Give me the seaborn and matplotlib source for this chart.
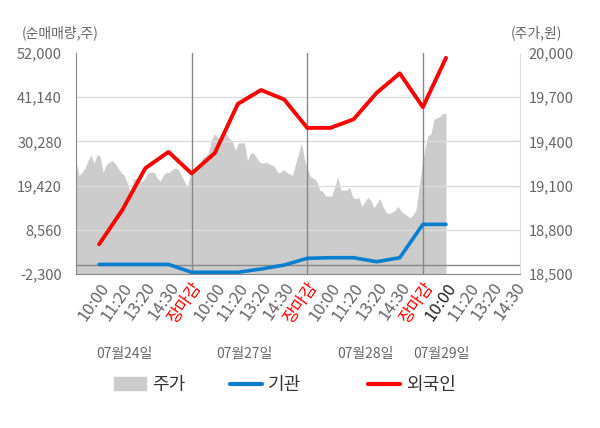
import numpy as np
import pandas as pd
import matplotlib
matplotlib.use('Agg')
import matplotlib.pyplot as plt
import seaborn as sns
from matplotlib.patches import Patch
from matplotlib.lines import Line2D

# time slots per day
slot_labels = ['10:00', '11:20', '13:20', '14:30', '장마감'] * 3 + ['10:00', '11:20', '13:20', '14:30']
day_labels = ['07월24일', '07월27일', '07월28일', '07월29일']

# net buying (shares), one value per slot 1..16
foreign = [5000, 13400, 23700, 27700, 22400, 27400, 39500, 42900,
           40600, 33600, 33600, 35700, 42200, 47000, 38700, 50800]
institution = [50, 50, 50, 50, -1880, -1880, -1880, -1070,
               -100, 1560, 1700, 1700, 720, 1700, 9900, 9900]

# intraday stock price (won)
price = [19260, 19170, 19190, 19220, 19270, 19310, 19250, 19310, 19300, 19190,
         19240, 19260, 19270, 19250, 19220, 19190, 19170, 19120, 19060, 19140,
         19150, 19130, 19130, 19150, 19190, 19190, 19190, 19150, 19130, 19170,
         19190, 19190, 19210, 19220, 19210, 19170, 19130, 19090, 19170, 19190,
         19210, 19230,
         19290, 19300, 19320, 19410, 19450, 19430, 19420, 19470, 19450, 19420,
         19400, 19340, 19390, 19390, 19390, 19270, 19320, 19320, 19290, 19260,
         19250, 19260, 19250, 19240, 19230, 19190, 19190, 19210, 19190, 19180,
         19170, 19250, 19320, 19390, 19270, 19210, 19160, 19150, 19130,
         19070, 19060, 19030, 19030, 19030, 19090, 19160, 19070, 19070, 19070,
         19090, 19020, 19010, 19020, 18960, 18990, 19020, 19000, 18950, 18980,
         19010, 18960, 18920, 18910, 18920, 18930, 18960, 18930, 18910, 18900,
         18880, 18900, 18930, 19080, 19230, 19350, 19440, 19450, 19550, 19560,
         19570, 19590, 19590]

left_ticks = [-2300, 8560, 19420, 30280, 41140, 52000]
right_ticks = [18500, 18800, 19100, 19400, 19700, 20000]

sns.set_style('white')
plt.rcParams['font.family'] = ['Noto Sans CJK KR', 'DejaVu Sans']

fig = plt.figure(figsize=(6, 4.28), dpi=100)
ax = fig.add_axes([76 / 600, 1 - 274 / 428, 444 / 600, 221 / 428])
ax2 = ax.twinx()

# price area on the right axis
price_df = pd.DataFrame({'x': np.linspace(0, 16, len(price)), 'price': price})
ax2.set_facecolor('#f5f5f5')
ax2.fill_between(price_df['x'], price_df['price'], 18500, color='#cccccc', lw=0, zorder=1)
for v in right_ticks[1:-1]:
    ax2.axhline(v, color='#dcdcdc', lw=1, zorder=2)
ax2.set_ylim(18500, 20000)
ax2.set_yticks(right_ticks)
ax2.set_yticklabels([f'{v:,}' for v in right_ticks])

# lines on top
ax.set_zorder(ax2.get_zorder() + 1)
ax.patch.set_visible(False)

flow = pd.DataFrame({'slot': np.arange(1, len(foreign) + 1), '외국인': foreign, '기관': institution})
sns.lineplot(data=flow, x='slot', y='기관', ax=ax, color='#0a7fcf', lw=2.6, zorder=4)
sns.lineplot(data=flow, x='slot', y='외국인', ax=ax, color='#ff0000', lw=2.8, zorder=5)

ax.set_ylim(-2300, 52000)
ax.set_yticks(left_ticks)
ax.set_yticklabels([f'{v:,}' for v in left_ticks])
ax.set_xlim(0, 19.2)
ax.set_xlabel('')
ax.set_ylabel('')

ax.axhline(0, color='#888888', lw=1, zorder=2)
for d in [5, 10, 15]:
    ax.axvline(d, color='#888888', lw=1, zorder=2)

ax.set_xticks(range(1, len(slot_labels) + 1))
ax.set_xticklabels(slot_labels, rotation=55, ha='right', va='top', rotation_mode='anchor')
for i, t in enumerate(ax.get_xticklabels()):
    if slot_labels[i] == '장마감':
        t.set_color('#ff0000')
    elif i == 15:
        t.set_color('#222222')
    else:
        t.set_color('#666666')
    t.set_fontsize(12)
ax.tick_params(axis='x', length=0, pad=4)
ax.set_xticks([0, 5, 10, 15], minor=True)
ax.tick_params(axis='x', which='minor', length=5, color='#888888')
ax.tick_params(axis='y', length=0, labelsize=10.5, labelcolor='#666666', pad=10)
ax2.tick_params(axis='y', length=0, labelsize=10.5, labelcolor='#666666', pad=6)

ax.spines['top'].set_visible(False)
ax2.spines['top'].set_visible(False)
ax.spines['left'].set_color('#888888')
ax.spines['bottom'].set_color('#888888')
ax2.spines['right'].set_color('#dddddd')
ax2.spines['left'].set_visible(False)
ax2.spines['bottom'].set_visible(False)
ax.spines['right'].set_visible(False)

day_pos = [2.1, 7.3, 12.5, 15.8]
for p, lab in zip(day_pos, day_labels):
    ax.text(p, -0.36, lab, transform=ax.get_xaxis_transform(), ha='center', va='center',
            fontsize=10, color='#666666')

fig.text(22 / 600, 1 - 33 / 428, '(순매매량,주)', ha='left', va='center', fontsize=10, color='#666666')
fig.text(562 / 600, 1 - 33 / 428, '(주가,원)', ha='right', va='center', fontsize=10, color='#666666')

# legend, one entry at a time to match the uneven spacing
handles = [Patch(color='#cccccc'), Line2D([], [], color='#0a7fcf', lw=3), Line2D([], [], color='#ff0000', lw=3)]
names = ['주가', '기관', '외국인']
legend_x = [114, 230, 368]
for h, n, lx in zip(handles, names, legend_x):
    leg = fig.legend([h], [n], loc='center left', bbox_to_anchor=(lx / 600, 1 - 385 / 428),
                     frameon=False, fontsize=13, handlelength=1.77, handletextpad=0.35,
                     borderpad=0, borderaxespad=0, labelcolor='#333333')

fig.savefig('out.png', dpi=100)
